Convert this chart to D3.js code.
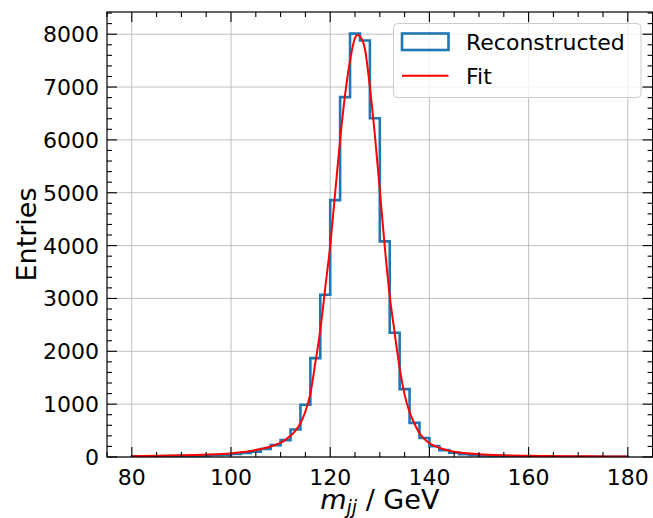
<!DOCTYPE html>
<html>
<head>
<meta charset="utf-8">
<script src="https://cdn.jsdelivr.net/npm/d3@7"></script>
<style>
  html, body { margin: 0; padding: 0; background: #fff; }
  svg { display: block; font-family: "DejaVu Sans", sans-serif; }
  .grid line { stroke: #b0b0b0; stroke-width: 0.8; }
  .tick-label { font-size: 22px; fill: #000; }
</style>
</head>
<body>
<svg id="chart" width="653" height="518"></svg>
<script>
// bin left edges (2 GeV wide) and the entries
var binEdges = d3.range(80, 180, 2);
var binWidth = 2;
var binCounts = [
  10, 12, 14, 16, 18, 20, 25, 30, 38, 45,
  60, 75, 100, 150, 225, 320, 520, 990, 1870, 3070,
  4860, 6810, 8010, 7880, 6410, 4080, 2350, 1285, 645, 360,
  205, 130, 80, 55, 40, 30, 22, 18, 14, 11,
  9, 8, 7, 6, 5, 5, 4, 4, 3, 3
];

// fit curve
var fitX = [80, 85, 90, 95, 100, 102, 104, 106, 108, 110, 111, 112, 113, 114, 115, 116, 117, 118, 119, 120,
  121, 122, 123, 124, 125, 125.5, 126, 127, 128, 129, 130, 131, 132, 133, 134, 135, 136, 137, 138, 139,
  140, 142, 144, 146, 148, 150, 155, 160, 165, 170, 175, 180];
var fitY = [15, 22, 32, 45, 68, 88, 115, 150, 200, 270, 330, 400, 500, 640, 860, 1200, 1780, 2400, 3200, 4000,
  5000, 6000, 6850, 7500, 7930, 7985, 7960, 7720, 7000, 6100, 5050, 3980, 3050, 2350, 1680, 1180, 850, 630, 450, 340,
  260, 175, 120, 85, 64, 50, 32, 24, 18, 14, 11, 9];

var xTicks = [80, 100, 120, 140, 160, 180];
var yTicks = [0, 1000, 2000, 3000, 4000, 5000, 6000, 7000, 8000];
var legendLabels = ["Reconstructed", "Fit"];

var svg = d3.select("#chart");
var pL = 107, pR = 652.6, pT = 12, pB = 457;

var x = d3.scaleLinear().domain([75, 185]).range([pL, pR]);
var y = d3.scaleLinear().domain([0, 8420]).range([pB, pT]);

svg.append("defs").append("clipPath").attr("id", "plotclip")
  .append("rect").attr("x", pL).attr("y", pT)
  .attr("width", pR - pL).attr("height", pB - pT);

// grid
var grid = svg.append("g").attr("class", "grid");
grid.selectAll(".gx").data(xTicks).enter().append("line")
  .attr("x1", d => x(d)).attr("x2", d => x(d))
  .attr("y1", pT).attr("y2", pB);
grid.selectAll(".gy").data(yTicks).enter().append("line")
  .attr("x1", pL).attr("x2", pR)
  .attr("y1", d => y(d)).attr("y2", d => y(d));

var plot = svg.append("g").attr("clip-path", "url(#plotclip)");

// step histogram outline
var steps = [[binEdges[0], 0]];
binEdges.forEach(function(e, i) {
  steps.push([e, binCounts[i]]);
  steps.push([e + binWidth, binCounts[i]]);
});
steps.push([binEdges[binEdges.length - 1] + binWidth, 0]);

var line = d3.line().x(d => x(d[0])).y(d => y(d[1]));

plot.append("path")
  .attr("d", line(steps))
  .attr("fill", "none")
  .attr("stroke", "#1f77b4")
  .attr("stroke-width", 2.6)
  .attr("stroke-linejoin", "miter");

var fitLine = d3.line().x(d => x(d[0])).y(d => y(d[1])).curve(d3.curveMonotoneX);
plot.append("path")
  .attr("d", fitLine(fitX.map((v, i) => [v, fitY[i]])))
  .attr("fill", "none")
  .attr("stroke", "#ff0000")
  .attr("stroke-width", 2);

// ticks, pointing inward on all four sides
var xMinor = d3.range(75, 186, 5).filter(d => xTicks.indexOf(d) < 0);
var yMinor = d3.range(0, 8401, 200).filter(d => yTicks.indexOf(d) < 0);
var tickG = svg.append("g").attr("stroke", "#000").attr("stroke-width", 1.1);

function xTickMarks(data, len) {
  tickG.selectAll(null).data(data).enter().append("line")
    .attr("x1", d => x(d)).attr("x2", d => x(d)).attr("y1", pB).attr("y2", pB - len);
  tickG.selectAll(null).data(data).enter().append("line")
    .attr("x1", d => x(d)).attr("x2", d => x(d)).attr("y1", pT).attr("y2", pT + len);
}
function yTickMarks(data, len) {
  tickG.selectAll(null).data(data).enter().append("line")
    .attr("y1", d => y(d)).attr("y2", d => y(d)).attr("x1", pL).attr("x2", pL + len);
  tickG.selectAll(null).data(data).enter().append("line")
    .attr("y1", d => y(d)).attr("y2", d => y(d)).attr("x1", pR).attr("x2", pR - len);
}
xTickMarks(xTicks, 10);
xTickMarks(xMinor, 5);
yTickMarks(yTicks, 10);
yTickMarks(yMinor, 5);

// frame
svg.append("rect")
  .attr("x", pL).attr("y", pT)
  .attr("width", pR - pL).attr("height", pB - pT)
  .attr("fill", "none").attr("stroke", "#000").attr("stroke-width", 1.2);

// tick labels
svg.selectAll(".xl").data(xTicks).enter().append("text")
  .attr("class", "tick-label")
  .attr("x", d => x(d)).attr("y", 485)
  .attr("text-anchor", "middle")
  .text(d => d);
svg.selectAll(".yl").data(yTicks).enter().append("text")
  .attr("class", "tick-label")
  .attr("x", 99).attr("y", d => y(d) + 8)
  .attr("text-anchor", "end")
  .text(d => d);

// axis labels
svg.append("text")
  .attr("transform", "translate(36," + ((pT + pB) / 2) + ") rotate(-90)")
  .attr("text-anchor", "middle")
  .attr("font-size", 27)
  .text("Entries");

var xl = svg.append("text")
  .attr("x", (pL + pR) / 2).attr("y", 508.5)
  .attr("text-anchor", "middle")
  .attr("font-size", 27);
xl.append("tspan").attr("font-style", "italic").text("m");
xl.append("tspan").attr("font-style", "italic").attr("font-size", 19).attr("dy", 5).text("jj");
xl.append("tspan").attr("dy", -5).text(" / GeV");

// legend
var lg = svg.append("g");
lg.append("rect")
  .attr("x", 393.5).attr("y", 23.5).attr("width", 247.5).attr("height", 74)
  .attr("rx", 4).attr("ry", 4)
  .attr("fill", "#fff").attr("fill-opacity", 0.8)
  .attr("stroke", "#cccccc").attr("stroke-width", 1);
lg.append("rect")
  .attr("x", 402).attr("y", 33.5).attr("width", 46.5).attr("height", 16.5)
  .attr("fill", "none").attr("stroke", "#1f77b4").attr("stroke-width", 2.6);
lg.append("line")
  .attr("x1", 402).attr("x2", 448.5).attr("y1", 75.7).attr("y2", 75.7)
  .attr("stroke", "#ff0000").attr("stroke-width", 2);
lg.selectAll(".lt").data(legendLabels).enter().append("text")
  .attr("x", 466).attr("y", (d, i) => 50 + i * 34)
  .attr("font-size", 22)
  .text(d => d);
</script>
</body>
</html>
